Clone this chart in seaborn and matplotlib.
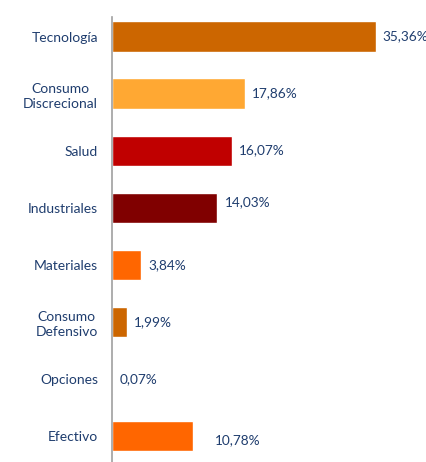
import matplotlib
matplotlib.use("Agg")
import matplotlib.pyplot as plt
import seaborn as sns
import pandas as pd

# Data
categorias = ["Tecnología", "Consumo\nDiscrecional", "Salud", "Industriales",
              "Materiales", "Consumo\nDefensivo", "Opciones", "Efectivo"]
pesos = [35.36, 17.86, 16.07, 14.03, 3.84, 1.99, 0.07, 10.78]
colores = ["#CC6600", "#FFA833", "#C00000", "#800000",
           "#FF6600", "#CC6600", "#CC6600", "#FF6600"]

df = pd.DataFrame({"categoria": categorias, "peso": pesos})

sns.set_style("white")
plt.rcParams["font.family"] = ["Lato", "DejaVu Sans"]
texto = "#1F3D6E"

fig = plt.figure(figsize=(4.27, 4.62), dpi=100)
ax = fig.add_axes([112.5 / 427, 0, 1 - 112.5 / 427, 445 / 462])

sns.barplot(data=df, y="categoria", x="peso", hue="categoria",
            palette=colores, legend=False, orient="h", width=0.53,
            saturation=1, ax=ax)

ax.set_xlim(0, 314.5 / 7.44)
ax.set_ylim(7.456, -0.342)
ax.set_xlabel("")
ax.set_ylabel("")
ax.set_xticks([])

for s in ["top", "right", "bottom"]:
    ax.spines[s].set_visible(False)
ax.spines["left"].set_color("#A0A0A0")
ax.spines["left"].set_linewidth(1.2)

ax.tick_params(axis="y", which="major", length=0, pad=10.5, labelsize=10,
               labelcolor=texto)
for lab in ax.get_yticklabels():
    lab.set_multialignment("center")
    lab.set_linespacing(1.3)
ax.set_yticks([i + 0.5 for i in range(len(categorias) - 1)], minor=True)
ax.tick_params(axis="y", which="minor", length=4, width=1.2, color="#A0A0A0",
               direction="out")

# value labels (offsets in points)
desp_x = [5, 5, 5, 6, 5, 5, 5, 16]
desp_y = [0, 0, 0, 4, 0, 0, 0, -3]
for i, v in enumerate(pesos):
    ax.annotate(f"{v:.2f}%".replace(".", ","), xy=(v, i),
                xytext=(desp_x[i], desp_y[i]), textcoords="offset points",
                ha="left", va="center", fontsize=9.8, color=texto)

fig.savefig("out.png", dpi=100)
